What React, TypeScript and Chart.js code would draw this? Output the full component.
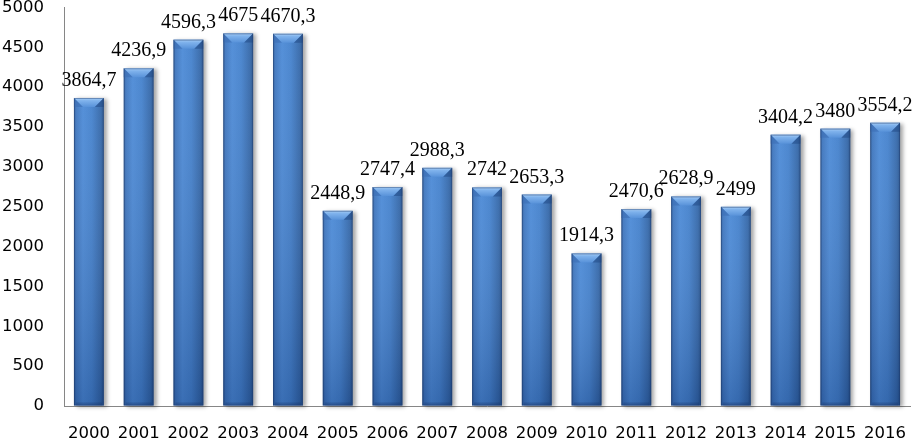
import React, { useEffect, useRef } from "react";
import { Chart, registerables } from "chart.js";

Chart.register(...registerables);

const years = ["2000","2001","2002","2003","2004","2005","2006","2007","2008","2009","2010","2011","2012","2013","2014","2015","2016"];
const values = [3864.7,4236.9,4596.3,4675,4670.3,2448.9,2747.4,2988.3,2742,2653.3,1914.3,2470.6,2628.9,2499,3404.2,3480,3554.2];
const yMin = 0;
const yMax = 5000;
const yStep = 500;

const fmt = (v: number) => String(v).replace(".", ",");

const barPainter = {
  id: "barPainter",
  afterDatasetsDraw(chart: any) {
    const ctx = chart.ctx as CanvasRenderingContext2D;
    const meta = chart.getDatasetMeta(0);
    meta.data.forEach((el: any, i: number) => {
      const { x, y, base, width } = el.getProps(["x", "y", "base", "width"], true);
      const l = x - width / 2;
      const r = x + width / 2;
      const t = y;
      const b = base - 0.5;
      ctx.save();
      ctx.shadowColor = "rgba(0,0,0,0.35)";
      ctx.shadowBlur = 4;
      ctx.shadowOffsetX = 3;
      ctx.shadowOffsetY = 1;
      const hg = ctx.createLinearGradient(l, 0, r, 0);
      hg.addColorStop(0, "#2a5793");
      hg.addColorStop(0.07, "#3c74bd");
      hg.addColorStop(0.3, "#4a89d6");
      hg.addColorStop(0.6, "#4280cc");
      hg.addColorStop(0.9, "#3266a8");
      hg.addColorStop(1, "#24508a");
      ctx.fillStyle = hg;
      ctx.fillRect(l, t, r - l, b - t);
      ctx.restore();
      ctx.save();
      const vg = ctx.createLinearGradient(0, t, 0, b);
      vg.addColorStop(0, "rgba(255,255,255,0.06)");
      vg.addColorStop(1, "rgba(0,15,60,0.22)");
      ctx.fillStyle = vg;
      ctx.fillRect(l, t, r - l, b - t);
      // bottom bevel
      ctx.fillStyle = "rgba(20,45,90,0.25)";
      ctx.fillRect(l + 2, b - 3, r - l - 4, 3);
      // top bevel
      const h = Math.min(9, (b - t) / 2);
      const bw = 9;
      const bg = ctx.createLinearGradient(0, t, 0, t + h);
      bg.addColorStop(0, "#a9cff6");
      bg.addColorStop(0.3, "#7fb2ec");
      bg.addColorStop(1, "#5892d9");
      ctx.beginPath();
      ctx.moveTo(l, t);
      ctx.lineTo(r, t);
      ctx.lineTo(r - bw, t + h);
      ctx.lineTo(l + bw, t + h);
      ctx.closePath();
      ctx.fillStyle = bg;
      ctx.fill();
      ctx.beginPath();
      ctx.moveTo(l, t);
      ctx.lineTo(l + bw, t + h);
      ctx.lineTo(l, t + h);
      ctx.closePath();
      ctx.fillStyle = "rgba(60,110,180,0.6)";
      ctx.fill();
      ctx.beginPath();
      ctx.moveTo(r, t);
      ctx.lineTo(r - bw, t + h);
      ctx.lineTo(r, t + h);
      ctx.closePath();
      ctx.fillStyle = "rgba(30,70,130,0.5)";
      ctx.fill();
      // outline
      ctx.strokeStyle = "rgba(30,60,110,0.45)";
      ctx.lineWidth = 1;
      ctx.strokeRect(l + 0.5, t + 0.5, r - l - 1, b - t - 1);
      ctx.restore();
      ctx.save();
      ctx.font = "20px 'Liberation Serif', 'Times New Roman', serif";
      ctx.fillStyle = "#000";
      ctx.textAlign = "center";
      ctx.textBaseline = "alphabetic";
      ctx.fillText(fmt(values[i]), x, t - 12);
      ctx.restore();
    });
  },
};

export default function App() {
  const ref = useRef<HTMLCanvasElement | null>(null);
  useEffect(() => {
    if (!ref.current) return;
    const chart = new Chart(ref.current, {
      type: "bar",
      data: {
        labels: years,
        datasets: [
          {
            data: values,
            backgroundColor: "rgba(0,0,0,0)",
            borderWidth: 0,
            barPercentage: 0.6,
            categoryPercentage: 1,
          },
        ],
      },
      options: {
        animation: false,
        responsive: true,
        maintainAspectRatio: false,
        layout: { padding: { top: 7.5, right: 3, left: 0, bottom: 0 } },
        plugins: { legend: { display: false }, tooltip: { enabled: false } },
        scales: {
          x: {
            grid: { display: false, drawTicks: false },
            border: { display: true, color: "#868686", width: 1 },
            ticks: {
              font: { family: "'DejaVu Sans', sans-serif", size: 16.5 },
              color: "#000",
              padding: 18,
              maxRotation: 0,
              autoSkip: false,
            },
            afterFit: (s: any) => {
              s.height = 33;
              s.paddingLeft = 0;
              s.paddingRight = 0;
            },
          },
          y: {
            min: yMin,
            max: yMax,
            grid: { display: false, drawTicks: false },
            border: { display: true, color: "#868686", width: 1 },
            ticks: {
              stepSize: yStep,
              font: { family: "'DejaVu Sans', sans-serif", size: 16.5 },
              color: "#000",
              padding: 20,
              callback: (v: any) => String(v),
            },
            afterFit: (s: any) => {
              s.width = 64;
              s.paddingTop = 0;
              s.paddingBottom = 0;
            },
          },
        },
      },
      plugins: [barPainter],
    });
    return () => chart.destroy();
  }, []);
  return (
    <div style={{ position: "absolute", left: 0, top: 0, width: 913, height: 439 }}>
      <canvas ref={ref} />
    </div>
  );
}
